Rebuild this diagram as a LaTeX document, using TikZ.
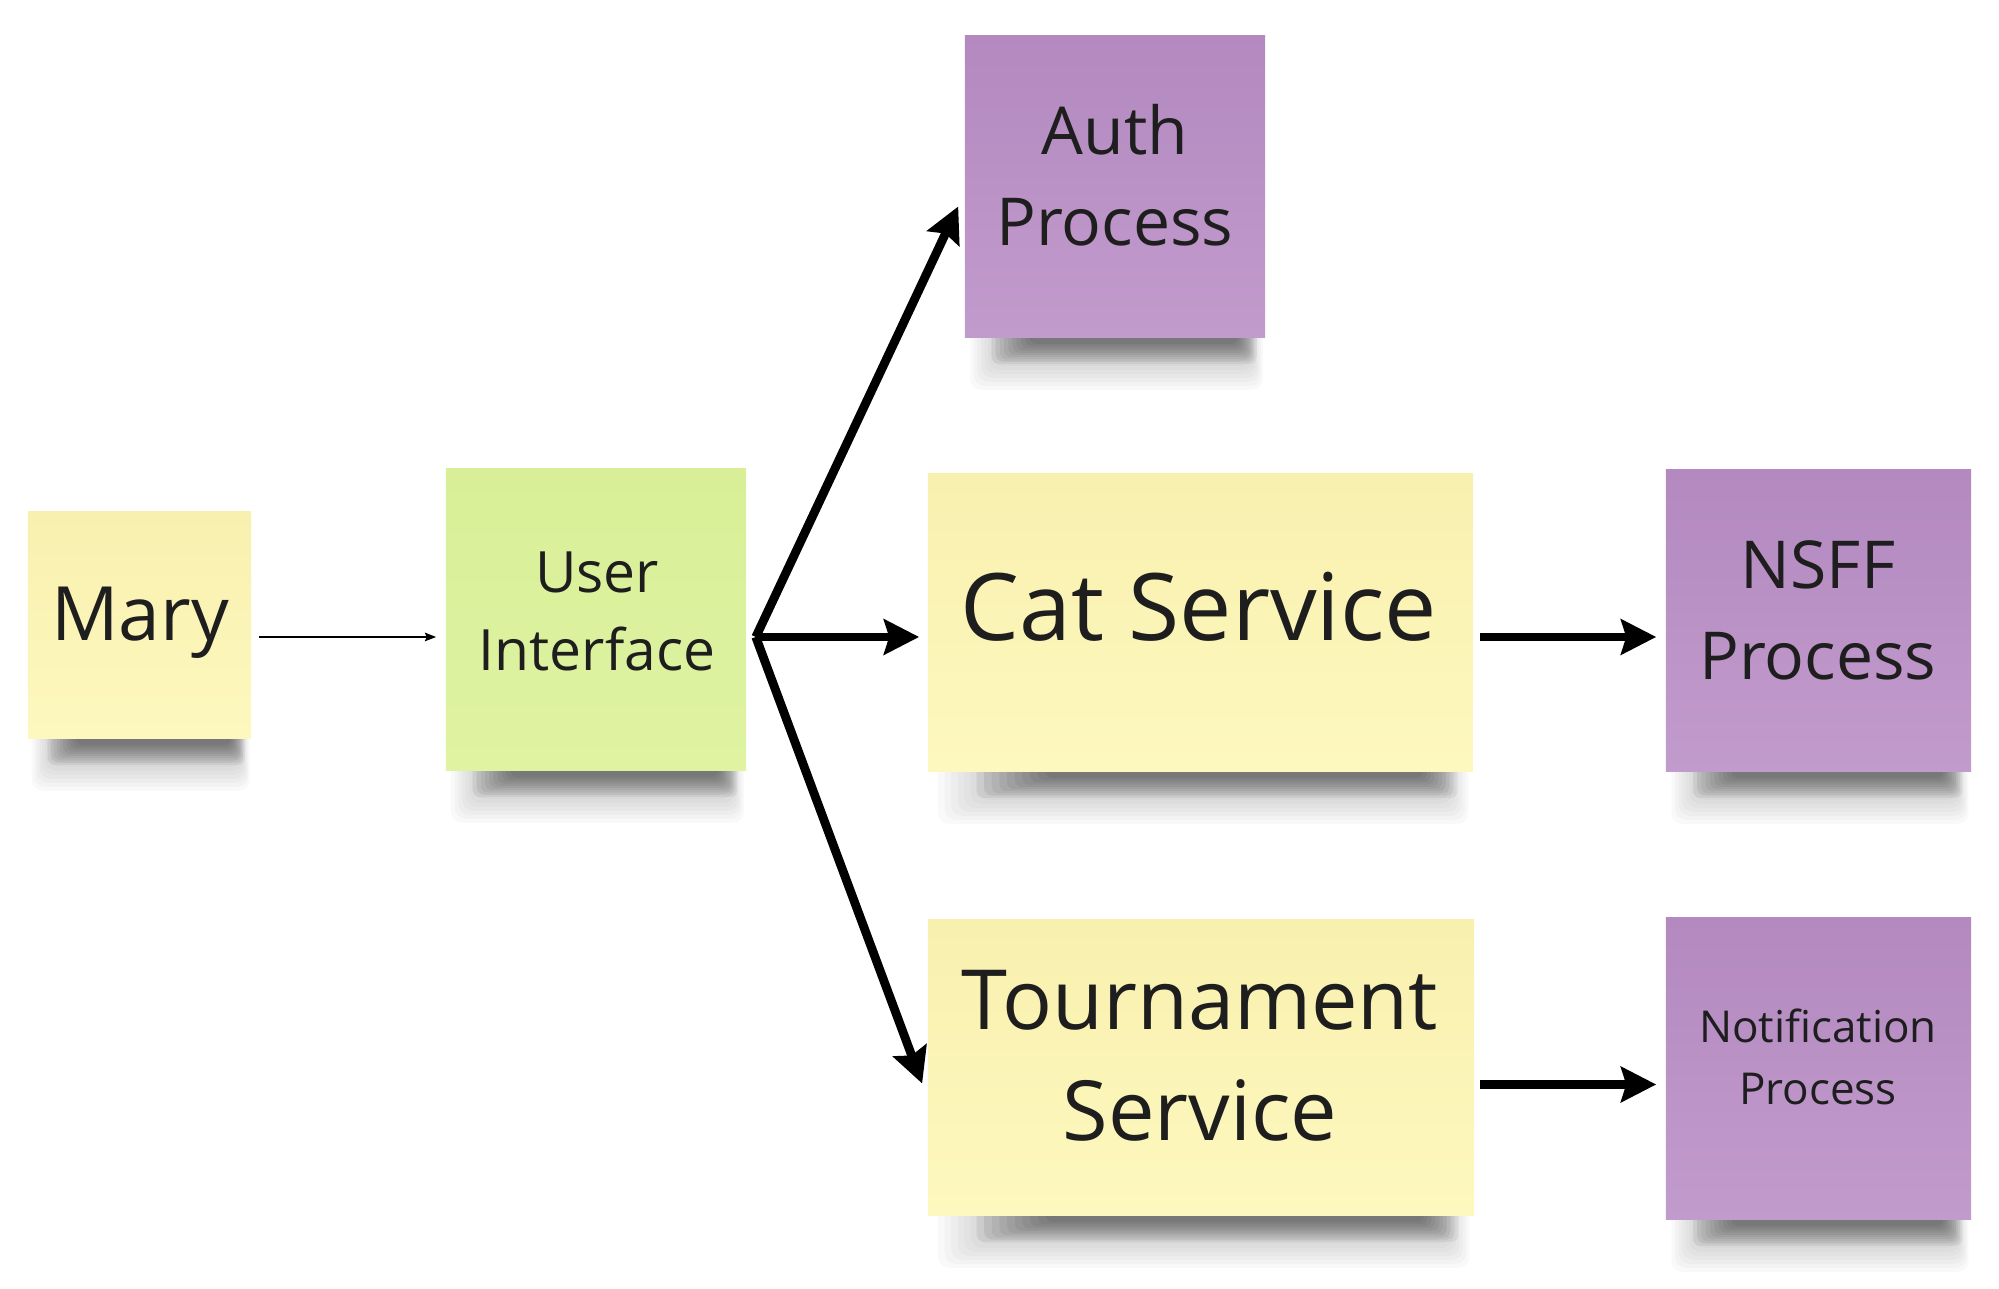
\documentclass[tikz,border=0pt]{standalone}
\usepackage{fontspec}
\setmainfont{Open Sans}
\usetikzlibrary{arrows.meta,calc}
\pgfdeclarelayer{background}
\pgfsetlayers{background,main}
\definecolor{yellowtop}{HTML}{F8F0AE}
\definecolor{yellowbot}{HTML}{FDF8BF}
\definecolor{greentop}{HTML}{D8EF97}
\definecolor{greenbot}{HTML}{DFF3A2}
\definecolor{purpletop}{HTML}{B389BF}
\definecolor{purplebot}{HTML}{C29BCD}
\definecolor{ink}{HTML}{1E1E1E}
% soft shadow under the bottom edge of a sticky note: a faint wide halo and a darker core
\newcommand{\noteshadow}[1]{%
  \foreach \k in {0,...,7}{%
    \fill[black,opacity=0.022,rounded corners=3pt]
      ($(#1.south west)!{0.02+0.012*\k}!(#1.south east)+(0,-10)$) rectangle
      ($(#1.south west)!{0.99-0.006*\k}!(#1.south east)+(0,52-4*\k)$);
  }%
  \foreach \k in {0,...,9}{%
    \fill[black,opacity=0.055,rounded corners=2pt]
      ($(#1.south west)!{0.09+0.014*\k}!(#1.south east)+(0,-10)$) rectangle
      ($(#1.south west)!{0.97-0.007*\k}!(#1.south east)+(0,26-2.2*\k)$);
  }%
}
\begin{document}
\begin{tikzpicture}[x=0.01cm,y=-0.01cm,
  note/.style={rectangle, inner sep=0pt, draw=none},
  yellownote/.style={note, top color=yellowtop, bottom color=yellowbot},
  greennote/.style={note, top color=greentop, bottom color=greenbot},
  purplenote/.style={note, top color=purpletop, bottom color=purplebot},
  lbl/.style={anchor=base, inner sep=0pt, text=ink},
  flow/.style={line width=2.5pt, -{Stealth[length=10pt,width=10pt,inset=1.5pt]}},
  thinflow/.style={line width=0.6pt, -{Stealth[length=3.2pt,width=2.4pt,inset=0.5pt]}}
]
\useasboundingbox (0,0) rectangle (1999,1289);

% sticky notes
\node[yellownote, minimum width=2.23cm, minimum height=2.26cm] (mary) at (139.5,625) {};
\node[greennote, minimum width=3.00cm, minimum height=3.01cm] (ui) at (596,619.5) {};
\node[purplenote, minimum width=3.00cm, minimum height=3.01cm] (auth) at (1115,186.5) {};
\node[yellownote, minimum width=5.45cm, minimum height=2.97cm] (cat) at (1200.5,622.5) {};
\node[purplenote, minimum width=3.05cm, minimum height=3.01cm] (nsff) at (1818.5,620.5) {};
\node[yellownote, minimum width=5.46cm, minimum height=2.95cm] (tour) at (1201,1067.5) {};
\node[purplenote, minimum width=3.05cm, minimum height=3.01cm] (notif) at (1818.5,1068.5) {};

\begin{pgfonlayer}{background}
  \foreach \n in {mary,ui,auth,cat,nsff,tour,notif}{\noteshadow{\n}}
\end{pgfonlayer}

% texts
\node[lbl, font=\fontsize{21.3}{26}\selectfont] (mary-l1) at (140,641) {Mary};
\node[lbl, font=\fontsize{16.2}{20}\selectfont] (ui-l1) at (597,593) {User};
\node[lbl, font=\fontsize{16.2}{20}\selectfont] (ui-l2) at (597,671) {Interface};
\node[lbl, font=\fontsize{18.8}{23}\selectfont] (auth-l1) at (1115,155) {Auth};
\node[lbl, font=\fontsize{18.8}{23}\selectfont] (auth-l2) at (1115,246) {Process};
\node[lbl, font=\fontsize{26.5}{32}\selectfont] (cat-l1) at (1199,641) {Cat Service};
\node[lbl, font=\fontsize{18.8}{23}\selectfont] (nsff-l1) at (1818,589) {NSFF};
\node[lbl, font=\fontsize{18.8}{23}\selectfont] (nsff-l2) at (1818,680) {Process};
\node[lbl, font=\fontsize{23.6}{29}\selectfont] (tour-l1) at (1200,1030) {Tournament};
\node[lbl, font=\fontsize{23.6}{29}\selectfont] (tour-l2) at (1200,1141) {Service};
\node[lbl, font=\fontsize{12.5}{16}\selectfont] (notif-l1) at (1818,1043) {Notification};
\node[lbl, font=\fontsize{12.5}{16}\selectfont] (notif-l2) at (1818,1105) {Process};

% connectors
\coordinate (fan) at ($(ui.east)+(9,17.5)$);
\draw[thinflow] ($(mary.east)+(7,12)$) -- ($(ui.west)+(-9,17.5)$);
\draw[flow] (fan) -- ($(auth.west)+(-6,20)$);
\draw[flow] (fan) -- ($(cat.west)+(-8,14.5)$);
\draw[flow] (fan) -- ($(tour.west)+(-5,16)$);
\draw[flow] ($(cat.east)+(6,14.5)$) -- ($(nsff.west)+(-9,16.5)$);
\draw[flow] ($(tour.east)+(5,17)$) -- ($(notif.west)+(-9,16)$);
\end{tikzpicture}
\end{document}
